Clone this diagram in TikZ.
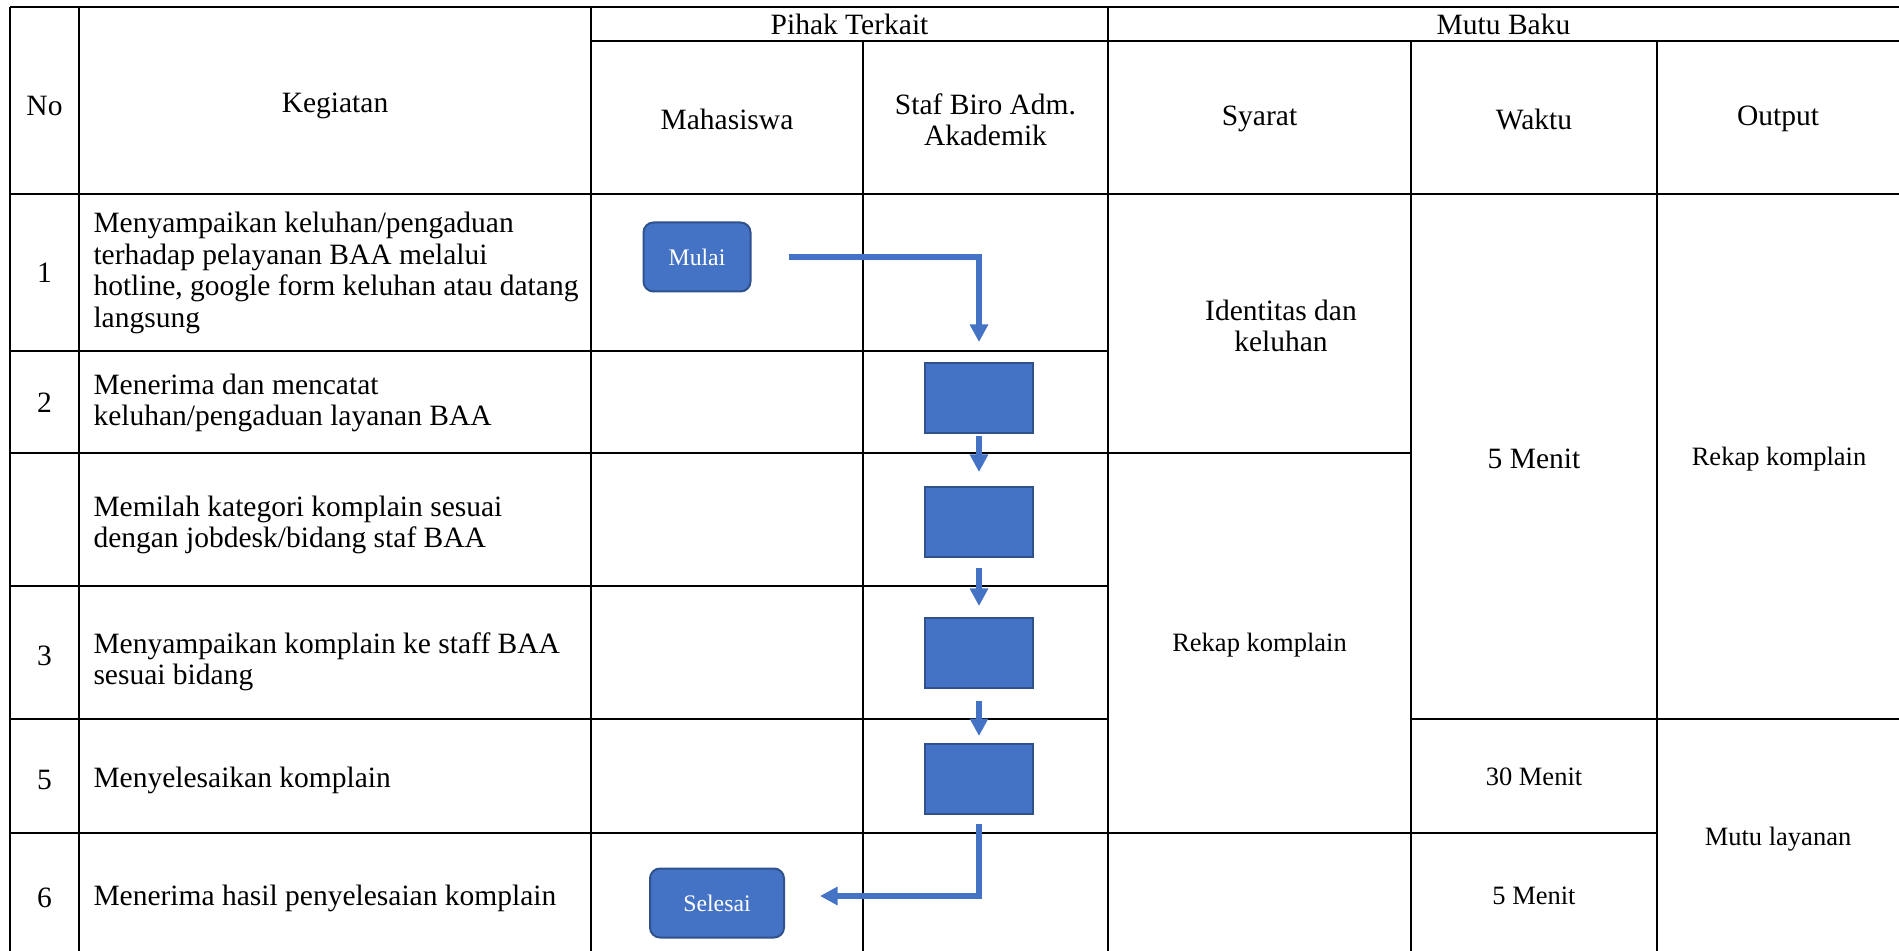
\documentclass[tikz,border=0pt]{standalone}
\usepackage{fontspec}
\setmainfont{Liberation Serif}
\usetikzlibrary{arrows.meta}
\definecolor{boxblue}{HTML}{4472C4}
\definecolor{boxedge}{HTML}{2F528F}
\begin{document}
\begin{tikzpicture}[x=0.4pt,y=-0.4pt,
  grid/.style={line width=0.9pt},
  big/.style={font=\fontsize{11.8}{12.6}\selectfont},
  small/.style={font=\fontsize{10.6}{12}\selectfont},
  cell/.style={big, align=center, inner sep=0pt},
  scell/.style={small, align=center, inner sep=0pt},
  act/.style={big, align=left, anchor=west, inner sep=0pt},
  proc/.style={draw=boxedge, fill=boxblue, line width=0.8pt, minimum width=43.2pt, minimum height=28pt, inner sep=0pt},
  term/.style={proc, rounded corners=4pt, text=white, font=\fontsize{9.5}{11}\selectfont},
  flow/.style={draw=boxblue, line width=2.3pt, line join=miter, -{Triangle[width=7pt,length=7pt]}}
]
\useasboundingbox (0,0) rectangle (1899,951);

% table grid
\draw[grid] (10,7) -- (10,951);
\draw[grid] (79,7) -- (79,951);
\draw[grid] (591,7) -- (591,951);
\draw[grid] (863,41) -- (863,951);
\draw[grid] (1108,7) -- (1108,951);
\draw[grid] (1411,41) -- (1411,951);
\draw[grid] (1657,41) -- (1657,951);
\draw[grid] (10,7) -- (1899,7);
\draw[grid] (591,41) -- (1899,41);
\draw[grid] (10,194) -- (1899,194);
\draw[grid] (10,351) -- (1108,351);
\draw[grid] (10,453) -- (1411,453);
\draw[grid] (10,586) -- (1108,586);
\draw[grid] (10,719) -- (1108,719);
\draw[grid] (1411,719) -- (1899,719);
\draw[grid] (10,833) -- (1657,833);

% header
\node[cell] (hno) at (44.5,106) {No};
\node[cell] (hkeg) at (335,106) {Kegiatan};
\node[cell] (hpihak) at (849.5,24) {Pihak Terkait};
\node[cell] (hmutu) at (1503.5,24) {Mutu Baku};
\node[cell] (hmhs) at (727,119) {Mahasiswa};
\node[cell] (hstaf) at (985.5,120) {Staf Biro Adm.\\Akademik};
\node[cell] (hsyarat) at (1259.5,119) {Syarat};
\node[cell] (hwaktu) at (1534,119) {Waktu};
\node[cell] (houtput) at (1778,119) {Output};

% numbers
\node[cell] (n1) at (44.5,273) {1};
\node[cell] (n2) at (44.5,403) {2};
\node[cell] (n3) at (44.5,656) {3};
\node[cell] (n5) at (44.5,780) {5};
\node[cell] (n6) at (44.5,898) {6};

% activities
\node[act] (a1) at (93,273) {Menyampaikan keluhan/pengaduan\\terhadap pelayanan BAA melalui\\hotline, google form keluhan atau datang\\langsung};
\node[act] (a2) at (93,403) {Menerima dan mencatat\\keluhan/pengaduan layanan BAA};
\node[act] (a3) at (93,525) {Memilah kategori komplain sesuai\\dengan jobdesk/bidang staf BAA};
\node[act] (a4) at (93,662) {Menyampaikan komplain ke staff BAA\\sesuai bidang};
\node[act] (a5) at (93,780) {Menyelesaikan komplain};
\node[act] (a6) at (93,898) {Menerima hasil penyelesaian komplain};

% mutu baku
\node[cell] (s1) at (1281,326) {Identitas dan\\keluhan};
\node[scell] (s2) at (1259.5,645) {Rekap komplain};
\node[cell] (w1) at (1534,459) {5 Menit};
\node[scell] (w2) at (1534,777) {30 Menit};
\node[scell] (w3) at (1534,896) {5 Menit};
\node[scell] (o1) at (1779,459) {Rekap komplain};
\node[scell] (o2) at (1778,839) {Mutu layanan};

% flowchart
\node[term, minimum width=42.8pt, minimum height=27.6pt] (mulai) at (697,257) {Mulai};
\node[proc] (b1) at (979,398) {};
\node[proc] (b2) at (979,522) {};
\node[proc] (b3) at (979,653) {};
\node[proc] (b4) at (979,779) {};
\node[term, minimum width=53.6pt, minimum height=27.6pt] (selesai) at (717,903) {Selesai};

\draw[flow, shorten <=15pt, shorten >=8pt] (mulai.east) -| (b1.north);
\draw[flow, shorten <=0.8pt, shorten >=5.6pt] (b1.south) -- (b2.north);
\draw[flow, shorten <=4pt, shorten >=4.4pt] (b2.south) -- (b3.north);
\draw[flow, shorten <=4.8pt, shorten >=2.8pt] (b3.south) -- (b4.north);
\draw[flow, shorten <=3.6pt, shorten >=14pt] (b4.south) |- ([yshift=2.8pt]selesai.east);
\end{tikzpicture}
\end{document}
